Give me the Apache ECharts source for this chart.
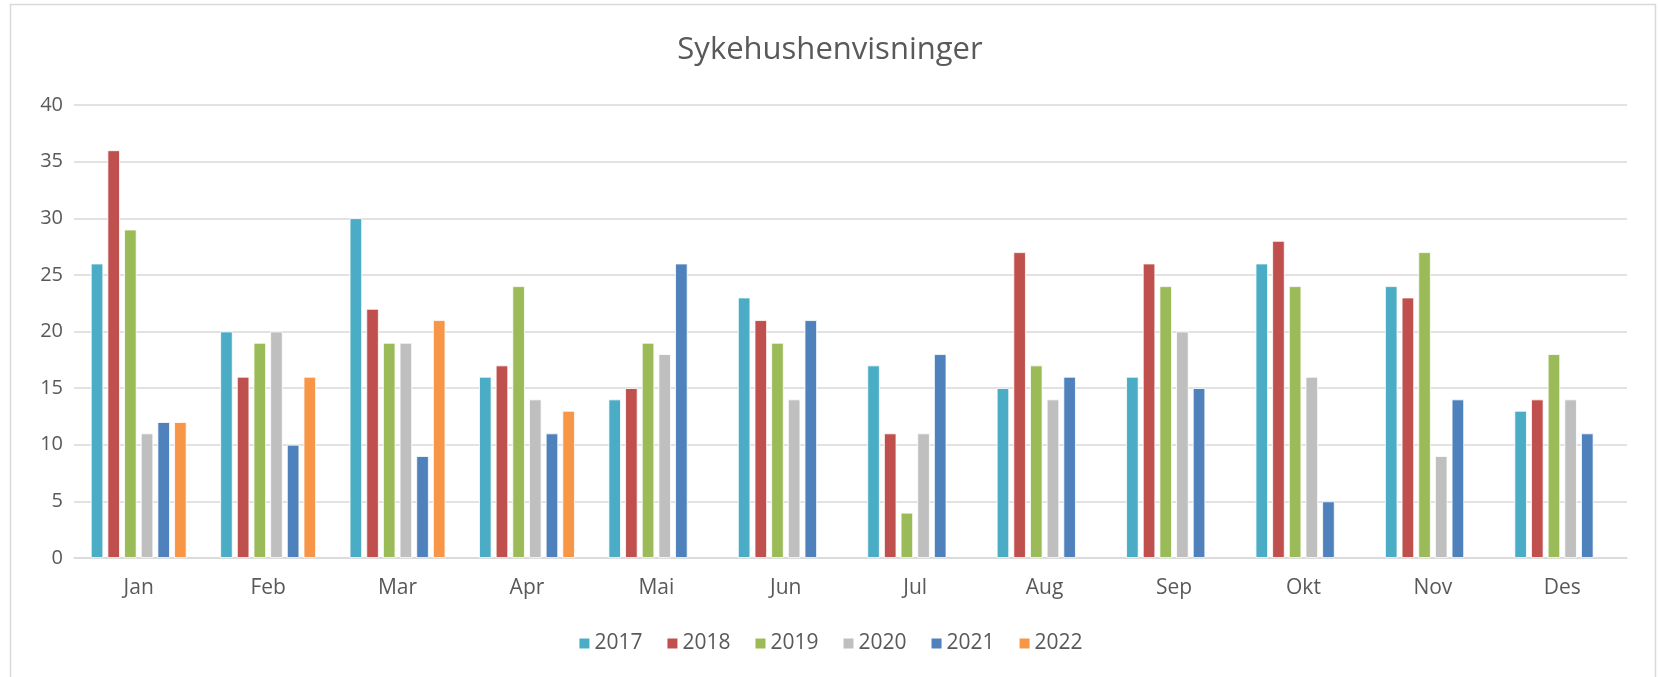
<!DOCTYPE html>
<html>
<head>
<meta charset="utf-8">
<script src="https://cdn.jsdelivr.net/npm/echarts@6/dist/echarts.min.js"></script>
<style>
    html, body { margin: 0; padding: 0; background: #fff; }
    #chart { width: 1660px; height: 677px; }
</style>
</head>
<body>
<div id="chart"></div>
<script>
var months = ['Jan', 'Feb', 'Mar', 'Apr', 'Mai', 'Jun', 'Jul', 'Aug', 'Sep', 'Okt', 'Nov', 'Des'];
var years = ['2017', '2018', '2019', '2020', '2021', '2022'];

var y2017 = [26, 20, 30, 16, 14, 23, 17, 15, 16, 26, 24, 13];
var y2018 = [36, 16, 22, 17, 15, 21, 11, 27, 26, 28, 23, 14];
var y2019 = [29, 19, 19, 24, 19, 19, 4, 17, 24, 24, 27, 18];
var y2020 = [11, 20, 19, 14, 18, 14, 11, 14, 20, 16, 9, 14];
var y2021 = [12, 10, 9, 11, 26, 21, 18, 16, 15, 5, 14, 11];
var y2022 = [12, 16, 21, 13, null, null, null, null, null, null, null, null];

var colors = ['#4bacc6', '#c0504d', '#9bbb59', '#bfbfbf', '#4f81bd', '#f79646'];
var yearData = [y2017, y2018, y2019, y2020, y2021, y2022];

var FONT = '"Open Sans", sans-serif';
var TXT = '#595959';

var series = [];
for (var i = 0; i < years.length; i++) {
    series.push({
        name: years[i],
        type: 'bar',
        data: yearData[i],
        barGap: '34%',
        barCategoryGap: '26%',
        itemStyle: {
            color: colors[i],
            borderColor: '#fff',
            borderWidth: 0.8
        }
    });
}

var myChart = echarts.init(document.getElementById('chart'));
myChart.setOption({
    animation: false,
    color: colors,
    graphic: [{
        type: 'rect',
        shape: { x: 10.5, y: 4.5, width: 1645, height: 700 },
        style: { fill: 'none', stroke: '#d9d9d9', lineWidth: 1.5 },
        z: -1
    }],
    title: {
        text: 'Sykehushenvisninger',
        left: 'center',
        top: 30,
        textStyle: { fontFamily: FONT, fontSize: 31, fontWeight: 'normal', color: TXT }
    },
    legend: {
        data: years,
        left: 'center',
        top: 628,
        itemWidth: 12,
        itemHeight: 12,
        itemGap: 23,
        icon: 'rect',
        textStyle: { fontFamily: FONT, fontSize: 21, color: TXT, padding: [0, 0, 0, -1] }
    },
    grid: { left: 74, right: 33, top: 105, bottom: 119, containLabel: false },
    xAxis: {
        type: 'category',
        data: months,
        axisLine: { lineStyle: { color: '#d9d9d9', width: 1.5 } },
        axisTick: { show: false },
        axisLabel: { fontFamily: FONT, fontSize: 21, color: TXT, margin: 20 }
    },
    yAxis: {
        type: 'value',
        min: 0,
        max: 40,
        interval: 5,
        axisLine: { show: false },
        axisTick: { show: false },
        splitLine: { lineStyle: { color: '#d9d9d9', width: 1.5 } },
        axisLabel: { fontFamily: FONT, fontSize: 20, color: TXT, margin: 11 }
    },
    series: series
});
</script>
</body>
</html>
